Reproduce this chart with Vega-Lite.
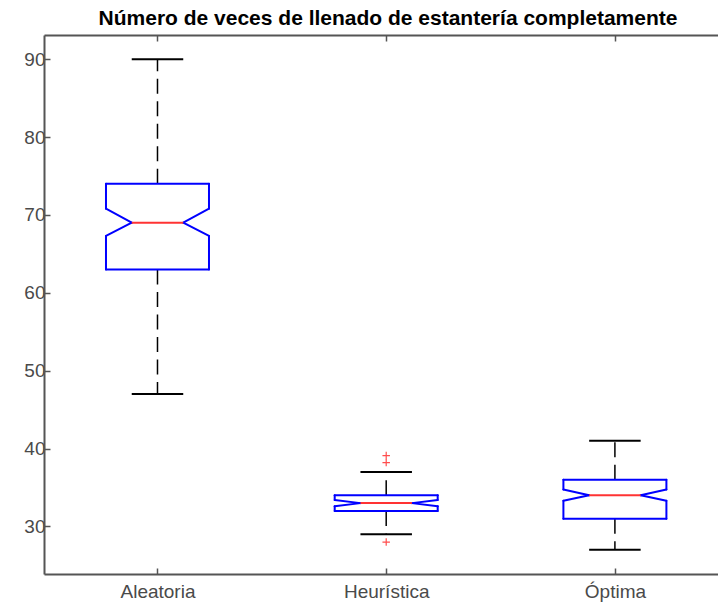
{
  "$schema": "https://vega.github.io/schema/vega-lite/v6.json",
  "width": 674,
  "height": 539,
  "autosize": {"type": "none"},
  "padding": {"left": 44, "top": 35, "right": 0, "bottom": 36},
  "background": "white",
  "config": {
    "view": {"stroke": null},
    "font": "Liberation Sans",
    "axis": {
      "grid": false,
      "domainColor": "#555555",
      "domainWidth": 2,
      "tickColor": "#555555",
      "tickWidth": 1.5,
      "tickSize": -6,
      "labelColor": "#4a4a4a",
      "labelFont": "Liberation Sans",
      "labelFontSize": 19,
      "labelFontWeight": "normal",
      "title": null
    }
  },
  "title": {
    "text": "Número de veces de llenado de estantería completamente",
    "font": "Liberation Sans",
    "fontSize": 21,
    "fontWeight": "bold",
    "color": "#000000",
    "anchor": "middle",
    "dx": 7,
    "offset": 5
  },
  "datasets": {
    "cajas": [
      {"metodo": "Aleatoria", "wlo": 47, "q1": 63, "nlo": 67.3, "med": 69, "nhi": 70.8, "q3": 74, "whi": 90},
      {"metodo": "Heurística", "wlo": 29, "q1": 32, "nlo": 32.6, "med": 33, "nhi": 33.4, "q3": 34, "whi": 37},
      {"metodo": "Óptima", "wlo": 27, "q1": 31, "nlo": 33.3, "med": 34, "nhi": 34.75, "q3": 36, "whi": 41}
    ],
    "atipicos": [
      {"metodo": "Heurística", "valor": 39.1},
      {"metodo": "Heurística", "valor": 38.2},
      {"metodo": "Heurística", "valor": 28}
    ]
  },
  "data": {"name": "cajas"},
  "encoding": {
    "x": {
      "field": "metodo",
      "type": "nominal",
      "sort": ["Aleatoria", "Heurística", "Óptima"],
      "scale": {"type": "point", "padding": 0.4735, "align": 0.524},
      "axis": null
    }
  },
  "resolve": {"axis": {"x": "independent"}},
  "layer": [
    {
      "mark": {"type": "rule", "color": "#000000", "strokeWidth": 1.5, "strokeDash": [15, 7.5]},
      "encoding": {
        "x": {
          "field": "metodo",
          "type": "nominal",
          "sort": ["Aleatoria", "Heurística", "Óptima"],
          "scale": {"type": "point", "padding": 0.4735, "align": 0.524},
          "axis": {"orient": "bottom", "labelAngle": 0, "labelPadding": 14, "title": null}
        },
        "y": {"field": "q1", "type": "quantitative", "title": null,
              "scale": {"domain": [23.9, 93.1], "nice": false, "zero": false},
              "axis": {"values": [30, 40, 50, 60, 70, 80, 90], "labelPadding": 5}},
        "y2": {"field": "wlo"}
      }
    },
    {
      "mark": {"type": "rule", "color": "#000000", "strokeWidth": 1.5, "strokeDash": [15, 7.5]},
      "encoding": {"y": {"field": "q3", "type": "quantitative", "title": null}, "y2": {"field": "whi"}}
    },
    {
      "mark": {"type": "rule", "color": "#000000", "strokeWidth": 2, "xOffset": -25.75, "x2Offset": 25.75},
      "encoding": {
        "x": {
          "field": "metodo",
          "type": "nominal",
          "sort": ["Aleatoria", "Heurística", "Óptima"],
          "scale": {"type": "point", "padding": 0.4735, "align": 0.524},
          "axis": {"orient": "top", "labels": false, "title": null}
        },
        "x2": {"field": "metodo"},
        "y": {"field": "whi", "type": "quantitative", "title": null}
      }
    },
    {
      "mark": {"type": "rule", "color": "#000000", "strokeWidth": 2, "xOffset": -25.75, "x2Offset": 25.75},
      "encoding": {"x2": {"field": "metodo"}, "y": {"field": "wlo", "type": "quantitative", "title": null}}
    },
    {
      "mark": {"type": "rule", "color": "#0000ff", "strokeWidth": 2, "strokeCap": "round", "xOffset": -51.5, "x2Offset": 51.5},
      "encoding": {"x2": {"field": "metodo"}, "y": {"field": "q3", "type": "quantitative", "title": null}}
    },
    {
      "mark": {"type": "rule", "color": "#0000ff", "strokeWidth": 2, "strokeCap": "round", "xOffset": -51.5, "x2Offset": 51.5},
      "encoding": {"x2": {"field": "metodo"}, "y": {"field": "q1", "type": "quantitative", "title": null}}
    },
    {
      "mark": {"type": "rule", "color": "#0000ff", "strokeWidth": 2, "strokeCap": "round", "xOffset": -51.5},
      "encoding": {"y": {"field": "nhi", "type": "quantitative", "title": null}, "y2": {"field": "q3"}}
    },
    {
      "mark": {"type": "rule", "color": "#0000ff", "strokeWidth": 2, "strokeCap": "round", "xOffset": -51.5},
      "encoding": {"y": {"field": "q1", "type": "quantitative", "title": null}, "y2": {"field": "nlo"}}
    },
    {
      "mark": {"type": "rule", "color": "#0000ff", "strokeWidth": 2, "strokeCap": "round", "xOffset": 51.5},
      "encoding": {"y": {"field": "nhi", "type": "quantitative", "title": null}, "y2": {"field": "q3"}}
    },
    {
      "mark": {"type": "rule", "color": "#0000ff", "strokeWidth": 2, "strokeCap": "round", "xOffset": 51.5},
      "encoding": {"y": {"field": "q1", "type": "quantitative", "title": null}, "y2": {"field": "nlo"}}
    },
    {
      "mark": {"type": "rule", "color": "#0000ff", "strokeWidth": 2, "strokeCap": "round", "xOffset": -51.5, "x2Offset": -25.75},
      "encoding": {"x2": {"field": "metodo"}, "y": {"field": "nhi", "type": "quantitative", "title": null}, "y2": {"field": "med"}}
    },
    {
      "mark": {"type": "rule", "color": "#0000ff", "strokeWidth": 2, "strokeCap": "round", "xOffset": -51.5, "x2Offset": -25.75},
      "encoding": {"x2": {"field": "metodo"}, "y": {"field": "nlo", "type": "quantitative", "title": null}, "y2": {"field": "med"}}
    },
    {
      "mark": {"type": "rule", "color": "#0000ff", "strokeWidth": 2, "strokeCap": "round", "xOffset": 51.5, "x2Offset": 25.75},
      "encoding": {"x2": {"field": "metodo"}, "y": {"field": "nhi", "type": "quantitative", "title": null}, "y2": {"field": "med"}}
    },
    {
      "mark": {"type": "rule", "color": "#0000ff", "strokeWidth": 2, "strokeCap": "round", "xOffset": 51.5, "x2Offset": 25.75},
      "encoding": {"x2": {"field": "metodo"}, "y": {"field": "nlo", "type": "quantitative", "title": null}, "y2": {"field": "med"}}
    },
    {
      "mark": {"type": "rule", "color": "#ff3333", "strokeWidth": 2, "xOffset": -25.75, "x2Offset": 25.75},
      "encoding": {"x2": {"field": "metodo"}, "y": {"field": "med", "type": "quantitative", "title": null}}
    },
    {
      "data": {"name": "atipicos"},
      "mark": {"type": "point", "shape": "M-1,0L1,0M0,-1L0,1", "filled": false, "stroke": "#ff4d4d", "strokeWidth": 1.2, "size": 56, "opacity": 1},
      "encoding": {"y": {"field": "valor", "type": "quantitative", "title": null}}
    }
  ]
}
